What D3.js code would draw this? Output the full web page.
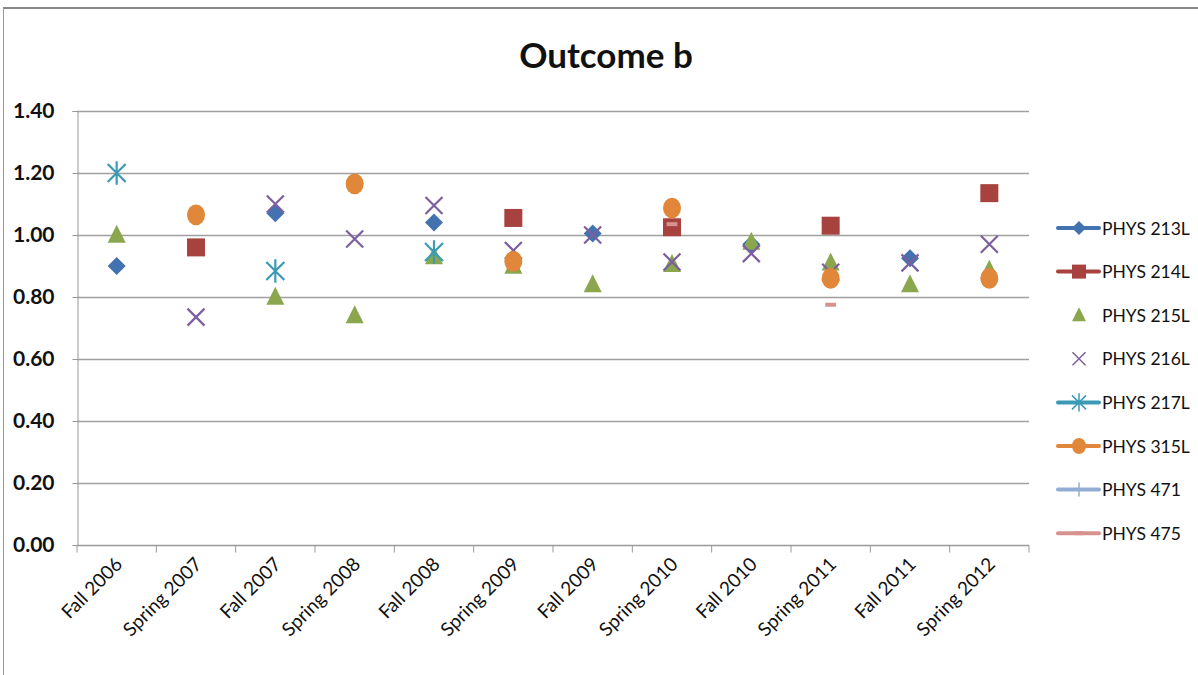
<!DOCTYPE html>
<html lang="en">
<head>
<meta charset="utf-8">
<script src="https://d3js.org/d3.v7.min.js"></script>
<style>
  body { margin: 0; background: #fff; }
  svg text { font-family: Lato, "Open Sans", sans-serif; fill: #111; }
</style>
</head>
<body>
<script>
// categories (semesters)
var terms = ["Fall 2006", "Spring 2007", "Fall 2007", "Spring 2008", "Fall 2008", "Spring 2009",
             "Fall 2009", "Spring 2010", "Fall 2010", "Spring 2011", "Fall 2011", "Spring 2012"];
var yTicks = [0, 0.2, 0.4, 0.6, 0.8, 1.0, 1.2, 1.4];

// series values, null = no data
var phys213L = [0.90, null, 1.07, null, 1.04, null, 1.005, null, 0.97, null, 0.925, null];
var phys214L = [null, 0.96, null, null, null, 1.055, null, 1.025, null, 1.03, null, 1.135];
var phys215L = [1.00, null, 0.80, 0.74, 0.93, 0.90, 0.84, 0.905, 0.977, 0.91, 0.84, 0.887];
var phys216L = [null, 0.735, 1.10, 0.987, 1.095, 0.95, 1.00, 0.913, 0.94, 0.88, 0.91, 0.97];
var phys217L = [1.20, null, 0.884, null, 0.945, null, null, null, null, null, null, null];
var phys315L = [null, 1.065, null, 1.165, null, 0.915, null, 1.087, null, 0.86, null, 0.86];
var phys471  = [null, null, null, null, null, null, null, null, null, null, null, null];
var phys475  = [null, null, null, null, null, null, null, 1.035, null, 0.775, null, null];

var series = [
  {name: "PHYS 213L", values: phys213L, color: "#4273b0", shape: "diamond", line: true},
  {name: "PHYS 214L", values: phys214L, color: "#a8423f", shape: "square", line: true},
  {name: "PHYS 215L", values: phys215L, color: "#8aa74e", shape: "triangle", line: false},
  {name: "PHYS 216L", values: phys216L, color: "#7b5fa0", shape: "x", line: false},
  {name: "PHYS 217L", values: phys217L, color: "#3c9ab4", shape: "star", line: true},
  {name: "PHYS 315L", values: phys315L, color: "#e0873a", shape: "circle", line: true},
  {name: "PHYS 471",  values: phys471,  color: "#93acd4", shape: "plus", line: true},
  {name: "PHYS 475",  values: phys475,  color: "#d6928f", shape: "dash", line: true}
];

var width = 1198, height = 675;
var plot = {left: 77, right: 1029, top: 111, bottom: 545};

var svg = d3.select("body").append("svg").attr("width", width).attr("height", height);

// outer chart frame
svg.append("line").attr("x1", 3).attr("x2", width).attr("y1", 8).attr("y2", 8)
  .attr("stroke", "#888").attr("stroke-width", 2);
svg.append("line").attr("x1", 3.5).attr("x2", 3.5).attr("y1", 8).attr("y2", height)
  .attr("stroke", "#999").attr("stroke-width", 1);

svg.append("text").attr("x", 606).attr("y", 68).attr("text-anchor", "middle")
  .style("font-size", "35px").style("font-weight", "bold").text("Outcome b");

var x = d3.scaleBand().domain(terms).range([plot.left, plot.right]);
var y = d3.scaleLinear().domain([0, 1.4]).range([plot.bottom, plot.top]);

// gridlines
svg.append("g").selectAll("line").data(yTicks.slice(1)).join("line")
  .attr("x1", plot.left).attr("x2", plot.right)
  .attr("y1", function(d) { return Math.round(y(d)) + 0.5; })
  .attr("y2", function(d) { return Math.round(y(d)) + 0.5; })
  .attr("stroke", "#a0a0a0").attr("stroke-width", 1.5);

// y axis
var yAxis = svg.append("g").attr("transform", "translate(" + (plot.left + 0.5) + ",0)")
  .call(d3.axisLeft(y).tickValues(yTicks).tickFormat(d3.format(".2f")).tickSize(5).tickPadding(18));
yAxis.select(".domain").attr("stroke", "#999");
yAxis.selectAll(".tick line").attr("stroke", "#999");
yAxis.selectAll("text").style("font-size", "21px").style("font-weight", "bold").attr("fill", "#111");

// x axis with ticks at category boundaries
var xAxis = svg.append("g").attr("transform", "translate(0," + (plot.bottom + 0.5) + ")");
xAxis.append("line").attr("x1", plot.left).attr("x2", plot.right).attr("stroke", "#999").attr("stroke-width", 1.5);
xAxis.selectAll("line.tk").data(terms.concat(["end"])).join("line").attr("class", "tk")
  .attr("x1", function(d, i) { return plot.left + i * x.bandwidth(); })
  .attr("x2", function(d, i) { return plot.left + i * x.bandwidth(); })
  .attr("y1", 0).attr("y2", 7).attr("stroke", "#999");
xAxis.selectAll("text").data(terms).join("text")
  .attr("transform", function(d) {
    return "translate(" + (x(d) + x.bandwidth() / 2 + 7) + ",20) rotate(-45)";
  })
  .attr("text-anchor", "end").style("font-size", "19px").text(function(d) { return d; });

// marker shapes
function markerPath(shape, s) {
  switch (shape) {
    case "diamond": return "M0," + (-s) + "L" + s + ",0L0," + s + "L" + (-s) + ",0Z";
    case "square": return "M" + (-s) + "," + (-s) + "h" + 2 * s + "v" + 2 * s + "h" + (-2 * s) + "Z";
    case "triangle": return "M0," + (-s * 1.15) + "L" + s + "," + s * 0.85 + "L" + (-s) + "," + s * 0.85 + "Z";
    case "x": return "M" + (-s) + "," + (-s) + "L" + s + "," + s + "M" + (-s) + "," + s + "L" + s + "," + (-s);
    case "star": return "M" + (-s) + "," + (-s) + "L" + s + "," + s + "M" + (-s) + "," + s + "L" + s + "," + (-s) +
                        "M0," + (-s * 1.3) + "L0," + s * 1.3;
    case "plus": return "M0," + (-s) + "L0," + s;
    case "dash": return "M" + (-s * 0.6) + ",-2h" + s * 1.2 + "v4h" + (-s * 1.2) + "Z";
    case "circle": return "M" + s + ",0A" + s + "," + s * 1.15 + " 0 1,1 " + (-s) + ",0A" + s + "," + s * 1.15 + " 0 1,1 " + s + ",0Z";
  }
}
function isStroke(shape) { return shape === "x" || shape === "star" || shape === "plus"; }

var points = svg.append("g");
series.forEach(function(sr) {
  var data = terms.map(function(t, i) { return {t: t, v: sr.values[i]}; })
    .filter(function(d) { return d.v != null; });
  points.selectAll(null).data(data).join("path")
    .attr("transform", function(d) { return "translate(" + (x(d.t) + x.bandwidth() / 2) + "," + y(d.v) + ")"; })
    .attr("d", markerPath(sr.shape, sr.shape === "x" ? 8.5 : 9))
    .attr("fill", isStroke(sr.shape) ? "none" : sr.color)
    .attr("stroke", isStroke(sr.shape) ? sr.color : "none")
    .attr("stroke-width", 2.2);
});

// legend
var legend = svg.append("g");
series.forEach(function(sr, i) {
  var ly = 228 + i * 43.6;
  var g = legend.append("g").attr("transform", "translate(0," + ly + ")");
  if (sr.line) {
    g.append("line").attr("x1", 1058).attr("x2", 1099).attr("stroke", sr.color)
      .attr("stroke-width", 4).attr("stroke-linecap", "round");
  }
  g.append("path").attr("transform", "translate(1079,0)")
    .attr("d", markerPath(sr.shape, sr.shape === "x" ? 6.5 : 7))
    .attr("fill", isStroke(sr.shape) ? "none" : sr.color)
    .attr("stroke", isStroke(sr.shape) ? sr.color : "none")
    .attr("stroke-width", 1.5);
  g.append("text").attr("x", 1102).attr("y", 6.5).style("font-size", "17.5px").text(sr.name);
});
</script>
</body>
</html>
